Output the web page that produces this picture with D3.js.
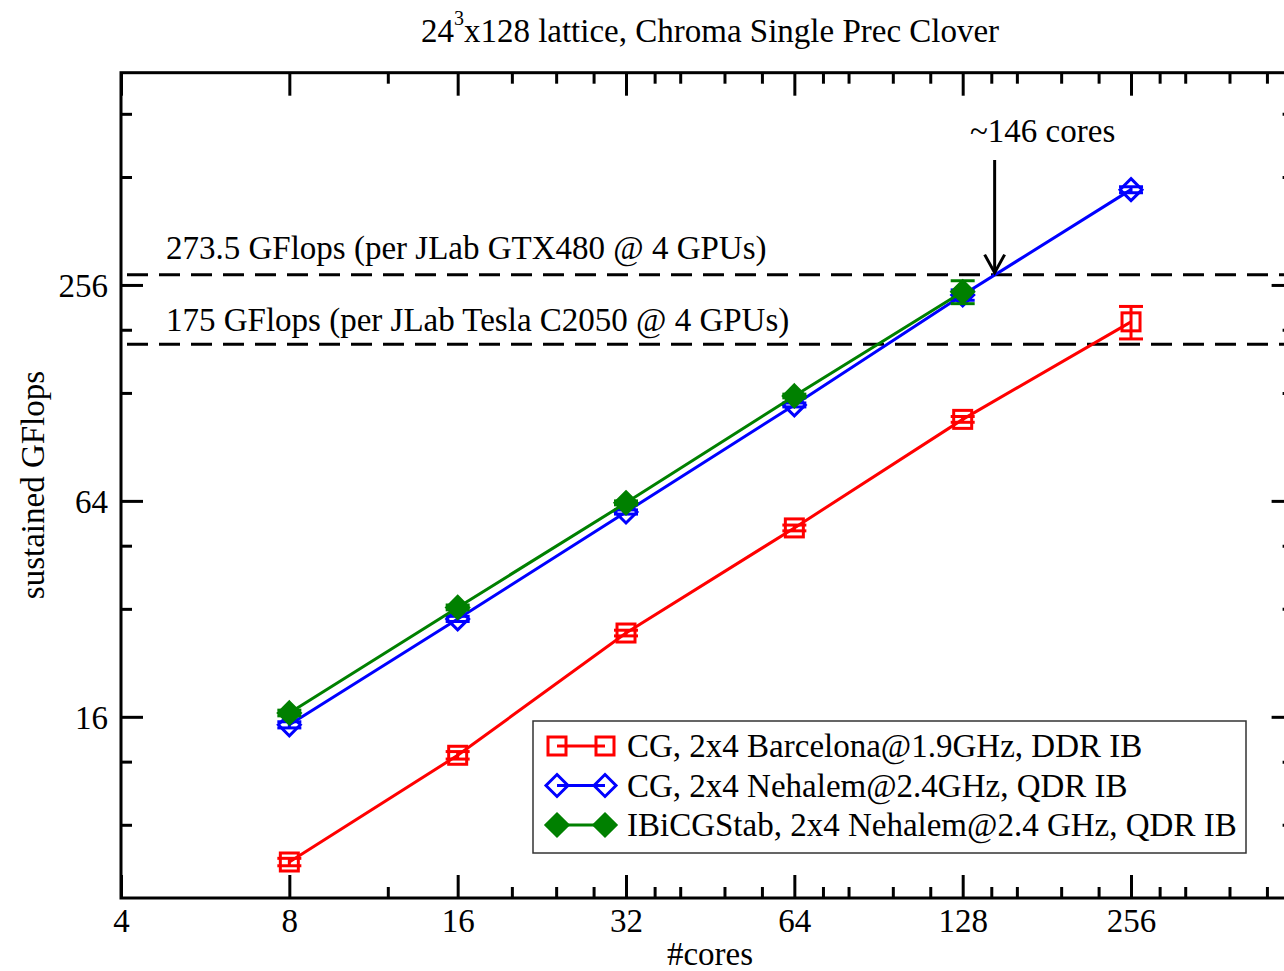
<!DOCTYPE html>
<html>
<head>
<meta charset="utf-8">
<script src="https://cdn.jsdelivr.net/npm/d3@7"></script>
<style>
  body { margin: 0; background: #fff; }
  svg text { font-family: "Liberation Serif", "Times New Roman", serif; fill: #000; }
</style>
</head>
<body>
<div id="area"></div>
<script>
// data
let cores = [8, 16, 32, 64, 128, 256]
let barcelona = [6.3, 12.5, 27.4, 53.8, 108, 202]
let barcelona_err = [0.15, 0.3, 0.5, 1, 2, 21]
let nehalem = [15.2, 30.0, 59.6, 118.5, 240, 472]
let nehalem_err = [0.3, 0.5, 0.8, 1.5, 8, 9]
let bicg_cores = [8, 16, 32, 64, 128]
let bicg = [16.4, 32.3, 63.2, 125.5, 245]
let bicg_err = [0.3, 0.5, 0.8, 1.5, 18]

let x_major = [4, 8, 16, 32, 64, 128, 256]
let x_minor = [12, 20, 24, 28, 36, 40, 48, 56, 72, 80, 96, 112, 144, 160, 192, 224, 288, 320, 384, 448]
let y_major = [16, 64, 256]
let y_minor = [8, 12, 32, 48, 128, 192, 512, 768]

let gpu_lines = [273.5, 175]
let gpu_labels = ['273.5 GFlops (per JLab GTX480 @ 4 GPUs)', '175 GFlops (per JLab Tesla C2050 @ 4 GPUs)']
let gpu_label_off = [16, 13]
let crossover = 146

let legend_names = ['CG, 2x4 Barcelona@1.9GHz, DDR IB', 'CG, 2x4 Nehalem@2.4GHz, QDR IB', 'IBiCGStab, 2x4 Nehalem@2.4 GHz, QDR IB']

let width = 1284
let height = 971
let pl = 121, pr = 1293.6, pt = 72.7, pb = 898
let fs = 33

let svg = d3.select('#area').append('svg').attr('width', width).attr('height', height)

let x = d3.scaleLog().base(2).domain([4, 500]).range([pl, pr])
let y = d3.scaleLog().base(2).domain([5, 1000]).range([pb, pt])

// clip for plot contents
svg.append('clipPath').attr('id', 'clip').append('rect')
  .attr('x', pl).attr('y', pt).attr('width', pr - pl).attr('height', pb - pt)

// axes (frame with inward ticks)
function addAxis(axisFn, scale, ticks, size, transform, labels) {
  let g = svg.append('g').attr('transform', transform)
    .call(axisFn(scale).tickValues(ticks).tickSize(size).tickPadding(10)
      .tickFormat(labels ? d3.format('d') : ''))
  g.select('.domain').remove()
  g.selectAll('line').attr('stroke', '#000').attr('stroke-width', 3)
  g.selectAll('text').attr('font-size', fs).attr('font-family', '"Liberation Serif", serif')
  return g
}
// bottom
addAxis(d3.axisTop, x, x_major, 23, `translate(0,${pb})`, false)
addAxis(d3.axisTop, x, x_minor, 11, `translate(0,${pb})`, false)
addAxis(d3.axisBottom, x, x_major, 0, `translate(0,${pb})`, true)
  .selectAll('text').attr('dy', 0).attr('y', 34)
// top
addAxis(d3.axisBottom, x, x_major, 23, `translate(0,${pt})`, false)
addAxis(d3.axisBottom, x, x_minor, 11, `translate(0,${pt})`, false)
// left
addAxis(d3.axisRight, y, y_major, 22, `translate(${pl},0)`, false)
addAxis(d3.axisRight, y, y_minor, 11, `translate(${pl},0)`, false)
addAxis(d3.axisLeft, y, y_major, 0, `translate(${pl},0)`, true)
  .selectAll('text').attr('x', -13).attr('dy', '0.35em')
// right
addAxis(d3.axisLeft, y, y_major, 22, `translate(${pr},0)`, false)
addAxis(d3.axisLeft, y, y_minor, 11, `translate(${pr},0)`, false)

svg.append('rect').attr('x', pl).attr('y', pt).attr('width', pr - pl).attr('height', pb - pt)
  .attr('fill', 'none').attr('stroke', '#000').attr('stroke-width', 3)

// title and axis labels
let title = svg.append('text').attr('x', 710).attr('y', 42).attr('text-anchor', 'middle').attr('font-size', fs)
title.append('tspan').text('24')
title.append('tspan').attr('font-size', 20).attr('dy', -17).text('3')
title.append('tspan').attr('dy', 17).text('x128 lattice, Chroma Single Prec Clover')

svg.append('text').attr('x', 710).attr('y', 965).attr('text-anchor', 'middle').attr('font-size', fs).text('#cores')
svg.append('text').attr('transform', 'translate(44,485) rotate(-90)').attr('text-anchor', 'middle')
  .attr('font-size', fs).text('sustained GFlops')

let plot = svg.append('g').attr('clip-path', 'url(#clip)')

// GPU reference lines
gpu_lines.forEach(function(v, i) {
  plot.append('line')
    .attr('x1', pl + 6).attr('x2', pr).attr('y1', y(v)).attr('y2', y(v))
    .attr('stroke', '#000').attr('stroke-width', 3).attr('stroke-dasharray', '21,11')
  svg.append('text').attr('x', 166).attr('y', y(v) - gpu_label_off[i]).attr('font-size', fs).text(gpu_labels[i])
})

// crossover arrow
let ax = x(crossover)
svg.append('line').attr('x1', ax).attr('x2', ax).attr('y1', 160).attr('y2', y(273.5) - 2)
  .attr('stroke', '#000').attr('stroke-width', 3)
svg.append('path')
  .attr('d', `M${ax - 10},${y(273.5) - 20}L${ax},${y(273.5) - 2}L${ax + 10},${y(273.5) - 20}`)
  .attr('fill', 'none').attr('stroke', '#000').attr('stroke-width', 3)
svg.append('text').attr('x', ax + 48).attr('y', 142).attr('text-anchor', 'middle').attr('font-size', fs).text('~146 cores')

// markers
function square(g, cx, cy, color) {
  g.append('rect').attr('x', cx - 9).attr('y', cy - 9).attr('width', 18).attr('height', 18)
    .attr('fill', 'none').attr('stroke', color).attr('stroke-width', 3)
}
function diamond(g, cx, cy, color, filled) {
  g.append('path').attr('d', `M${cx},${cy - 11}L${cx + 11},${cy}L${cx},${cy + 11}L${cx - 11},${cy}Z`)
    .attr('fill', filled ? color : 'none').attr('stroke', color).attr('stroke-width', 3)
}

let series = [
  {xs: cores, ys: barcelona, err: barcelona_err, color: '#ff0000', mark: function(g, a, b) { square(g, a, b, '#ff0000') }},
  {xs: cores, ys: nehalem, err: nehalem_err, color: '#0000ff', mark: function(g, a, b) { diamond(g, a, b, '#0000ff', false) }},
  {xs: bicg_cores, ys: bicg, err: bicg_err, color: '#008000', mark: function(g, a, b) { diamond(g, a, b, '#008000', true) }}
]

let line = d3.line().x(d => x(d[0])).y(d => y(d[1]))

series.forEach(function(s) {
  let g = plot.append('g')
  let pts = s.xs.map((c, i) => [c, s.ys[i], s.err[i]])
  g.append('path').datum(pts).attr('d', line).attr('fill', 'none')
    .attr('stroke', s.color).attr('stroke-width', 3)
  pts.forEach(function(p) {
    let cx = x(p[0]), hi = y(p[1] + p[2]), lo = y(p[1] - p[2])
    g.append('line').attr('x1', cx).attr('x2', cx).attr('y1', hi).attr('y2', lo).attr('stroke', s.color).attr('stroke-width', 3)
    g.append('line').attr('x1', cx - 12).attr('x2', cx + 12).attr('y1', hi).attr('y2', hi).attr('stroke', s.color).attr('stroke-width', 3)
    g.append('line').attr('x1', cx - 12).attr('x2', cx + 12).attr('y1', lo).attr('y2', lo).attr('stroke', s.color).attr('stroke-width', 3)
    s.mark(g, cx, y(p[1]))
  })
})

// legend
let lg = svg.append('g')
lg.append('rect').attr('x', 533).attr('y', 721).attr('width', 713).attr('height', 132)
  .attr('fill', '#fff').attr('stroke', '#333').attr('stroke-width', 1.5)
series.forEach(function(s, i) {
  let ly = 746 + i * 39.5
  lg.append('line').attr('x1', 557).attr('x2', 605).attr('y1', ly).attr('y2', ly)
    .attr('stroke', s.color).attr('stroke-width', 3)
  s.mark(lg, 557, ly)
  s.mark(lg, 605, ly)
  lg.append('text').attr('x', 627).attr('y', ly + 11).attr('font-size', fs).text(legend_names[i])
})
</script>
</body>
</html>
